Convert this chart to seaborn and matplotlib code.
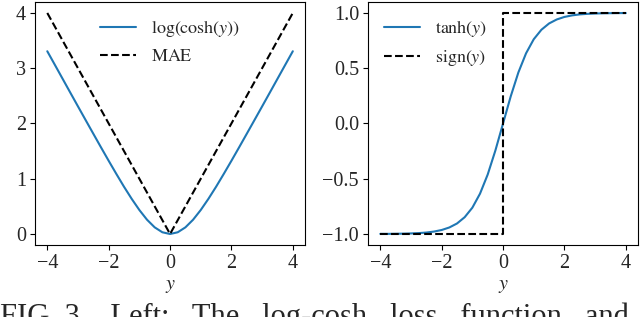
import numpy as np
import pandas as pd
import matplotlib
matplotlib.use('Agg')
import matplotlib.pyplot as plt
import seaborn as sns

sns.set_style('ticks')
plt.rcParams['font.family'] = ['Liberation Serif', 'DejaVu Serif']
plt.rcParams['mathtext.fontset'] = 'stix'
plt.rcParams['axes.unicode_minus'] = True

# values
y_grid = [-4.0, -3.75, -3.5, -3.25, -3.0, -2.75, -2.5, -2.25, -2.0, -1.75, -1.5,
          -1.25, -1.0, -0.75, -0.5, -0.25, 0.0, 0.25, 0.5, 0.75, 1.0, 1.25,
          1.5, 1.75, 2.0, 2.25, 2.5, 2.75, 3.0, 3.25, 3.5, 3.75, 4.0]
logcosh = [3.307, 3.058, 2.808, 2.558, 2.309, 2.061, 1.814, 1.568, 1.325, 1.087,
           0.855, 0.636, 0.434, 0.258, 0.120, 0.031, 0.0, 0.031, 0.120, 0.258,
           0.434, 0.636, 0.855, 1.087, 1.325, 1.568, 1.814, 2.061, 2.309, 2.558,
           2.808, 3.058, 3.307]
tanh_vals = [-0.999, -0.999, -0.998, -0.997, -0.995, -0.992, -0.987, -0.978,
             -0.964, -0.941, -0.905, -0.848, -0.762, -0.635, -0.462, -0.245, 0.0,
             0.245, 0.462, 0.635, 0.762, 0.848, 0.905, 0.941, 0.964, 0.978, 0.987,
             0.992, 0.995, 0.997, 0.998, 0.999, 0.999]
mae_y = [-4.0, 0.0, 4.0]
mae_vals = [4.0, 0.0, 4.0]
sign_y = [-4.0, 0.0, 0.0, 4.0]
sign_vals = [-1.0, -1.0, 1.0, 1.0]

left_ticks_y = [0, 1, 2, 3, 4]
right_ticks_y = [-1.0, -0.5, 0.0, 0.5, 1.0]
x_ticks = [-4, -2, 0, 2, 4]

fs = 13
tfs = 14.5
blue = '#1f77b4'

fig = plt.figure(figsize=(6.4, 3.17), dpi=100)
ax1 = fig.add_axes([0.0547, 0.227, 0.422, 0.767])
ax2 = fig.add_axes([0.575, 0.227, 0.422, 0.767])

df_lc = pd.DataFrame({'y': y_grid, 'v': logcosh})
df_mae = pd.DataFrame({'y': mae_y, 'v': mae_vals})
sns.lineplot(data=df_lc, x='y', y='v', ax=ax1, color=blue, lw=1.5,
             sort=False, estimator=None, label=r'$\log(\cosh(y))$')
sns.lineplot(data=df_mae, x='y', y='v', ax=ax1, color='black', lw=1.5,
             linestyle='--', sort=False, estimator=None, label=r'$\mathrm{MAE}$')

df_th = pd.DataFrame({'y': y_grid, 'v': tanh_vals})
df_sg = pd.DataFrame({'y': sign_y, 'v': sign_vals})
sns.lineplot(data=df_th, x='y', y='v', ax=ax2, color=blue, lw=1.5,
             sort=False, estimator=None, label=r'$\tanh(y)$')
sns.lineplot(data=df_sg, x='y', y='v', ax=ax2, color='black', lw=1.5,
             linestyle='--', sort=False, estimator=None, label=r'$\mathrm{sign}(y)$')

ax1.set_yticks(left_ticks_y)
ax2.set_yticks(right_ticks_y)
ax2.set_yticklabels(['\u22121.0', '\u22120.5', '0.0', '0.5', '1.0'])
for ax in (ax1, ax2):
    ax.set_xticks(x_ticks)
    ax.set_xticklabels(['\u22124', '\u22122', '0', '2', '4'])
    ax.set_xlabel(r'$y$', fontsize=tfs, labelpad=2)
    ax.set_ylabel('')
    ax.tick_params(labelsize=tfs, color='black', width=0.8, length=3.5, pad=3)
    for s in ax.spines.values():
        s.set_color('black')
        s.set_linewidth(0.8)

ax1.legend(loc='upper center', frameon=False, fontsize=fs)
ax2.legend(loc='upper left', frameon=False, fontsize=fs)

fig.text(0.0, -0.025, 'FIG. 3.   Left:   The   log-cosh   loss   function   and   its   limit',
         fontsize=22, va='baseline', ha='left')

fig.savefig('out.png', dpi=100)
